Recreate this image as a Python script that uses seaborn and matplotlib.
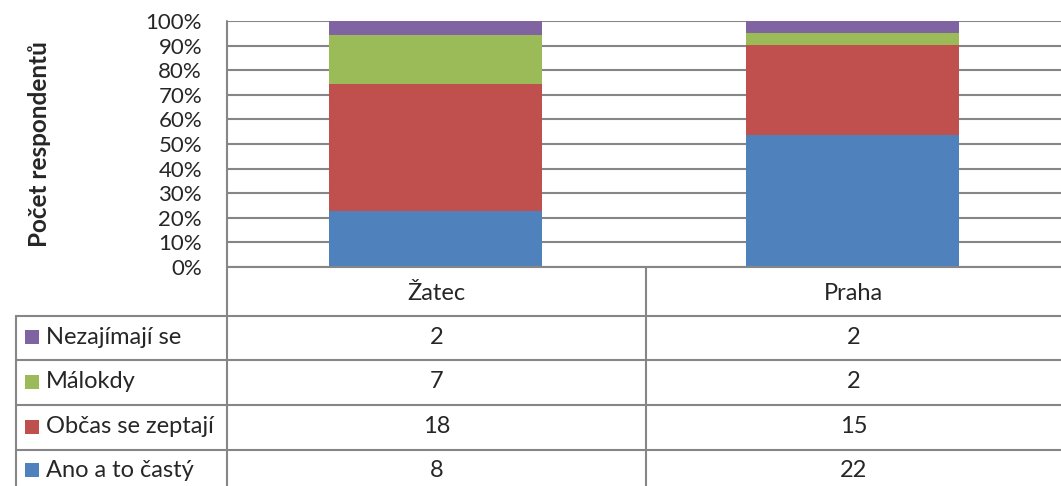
import numpy as np
import pandas as pd
import seaborn as sns
import matplotlib.pyplot as plt
from matplotlib.lines import Line2D
from matplotlib.patches import Rectangle

# data (counts per answer, per town)
towns = ["Žatec", "Praha"]
answers = ["Ano a to častý", "Občas se zeptají", "Málokdy", "Nezajímají se"]
ano = [8, 22]
obcas = [18, 15]
malokdy = [7, 2]
nezajimaji = [2, 2]
colors = ["#4f81bd", "#c0504d", "#9bbb59", "#8064a2"]

sns.set_theme(style="white")
plt.rcParams["font.family"] = ["Lato", "DejaVu Sans"]
plt.rcParams["ytick.major.pad"] = 18
plt.rcParams["ytick.major.size"] = 0
fs = 17

counts = pd.DataFrame({"town": towns, answers[0]: ano, answers[1]: obcas,
                       answers[2]: malokdy, answers[3]: nezajimaji})
totals = counts[answers].sum(axis=1)
cum = counts[answers].cumsum(axis=1).div(totals, axis=0) * 100
cum["town"] = towns

W, H = 1061, 486
fig = plt.figure(figsize=(W / 100, H / 100), dpi=100)

x_left, x_right, y_top, y_base = 227, 1061, 21, 267
ax = fig.add_axes([x_left / W, 1 - y_base / H, (x_right - x_left) / W, (y_base - y_top) / H])

# stacked 100% bars: draw cumulative tops from the highest down
for i in range(len(answers) - 1, -1, -1):
    sns.barplot(data=cum, x="town", y=answers[i], color=colors[i], saturation=1,
                width=0.51, linewidth=0, ax=ax, zorder=3)

ax.set_ylim(0, 100)
ax.set_xlim(-0.5, 1.5)
ax.set_yticks(np.arange(0, 101, 10))
ax.set_yticklabels([f"{v}%" for v in range(0, 101, 10)], fontsize=16)
ax.set_xticks([])
ax.set_xlabel("")
ax.set_ylabel("Počet respondentů", fontsize=17.5, fontweight="bold", labelpad=68)
ax.yaxis.grid(True, color="#868686", linewidth=1.5, zorder=0)
for s in ["top", "right", "bottom", "left"]:
    ax.spines[s].set_visible(False)

# data table drawn below the axis
lc = "#868686"
lw = 1.5


def fx(px):
    return px / W


def fy(py):
    return 1 - py / H


col_mid = 646
row_lines = [267, 316, 360, 405, 450]
bottom = 486
fig.add_artist(Line2D([fx(x_left), fx(x_left)], [fy(y_top), fy(bottom)], color=lc, lw=lw))
fig.add_artist(Line2D([fx(x_left), fx(W)], [fy(267), fy(267)], color=lc, lw=lw))
for r in row_lines[1:]:
    fig.add_artist(Line2D([fx(16), fx(W)], [fy(r), fy(r)], color=lc, lw=lw))
fig.add_artist(Line2D([fx(16), fx(16)], [fy(316), fy(bottom)], color=lc, lw=lw))
fig.add_artist(Line2D([fx(col_mid), fx(col_mid)], [fy(267), fy(bottom)], color=lc, lw=lw))

centers = [(x_left + col_mid) / 2, (col_mid + W) / 2]
for cx, t in zip(centers, towns):
    fig.text(fx(cx), fy(293), t, ha="center", va="center", fontsize=fs)

table_rows = list(reversed(range(len(answers))))
bounds = row_lines[1:] + [bottom + 6]
for k, i in enumerate(table_rows):
    ymid = (bounds[k] + bounds[k + 1]) / 2 - 1
    fig.add_artist(Rectangle((fx(25), fy(ymid + 7)), 14 / W, 14 / H,
                             facecolor=colors[i], edgecolor="none"))
    fig.text(fx(46), fy(ymid), answers[i], ha="left", va="center", fontsize=fs)
    vals = counts[answers[i]].tolist()
    for cx, v in zip(centers, vals):
        fig.text(fx(cx), fy(ymid), str(v), ha="center", va="center", fontsize=fs)

fig.savefig("out.png", dpi=100)
